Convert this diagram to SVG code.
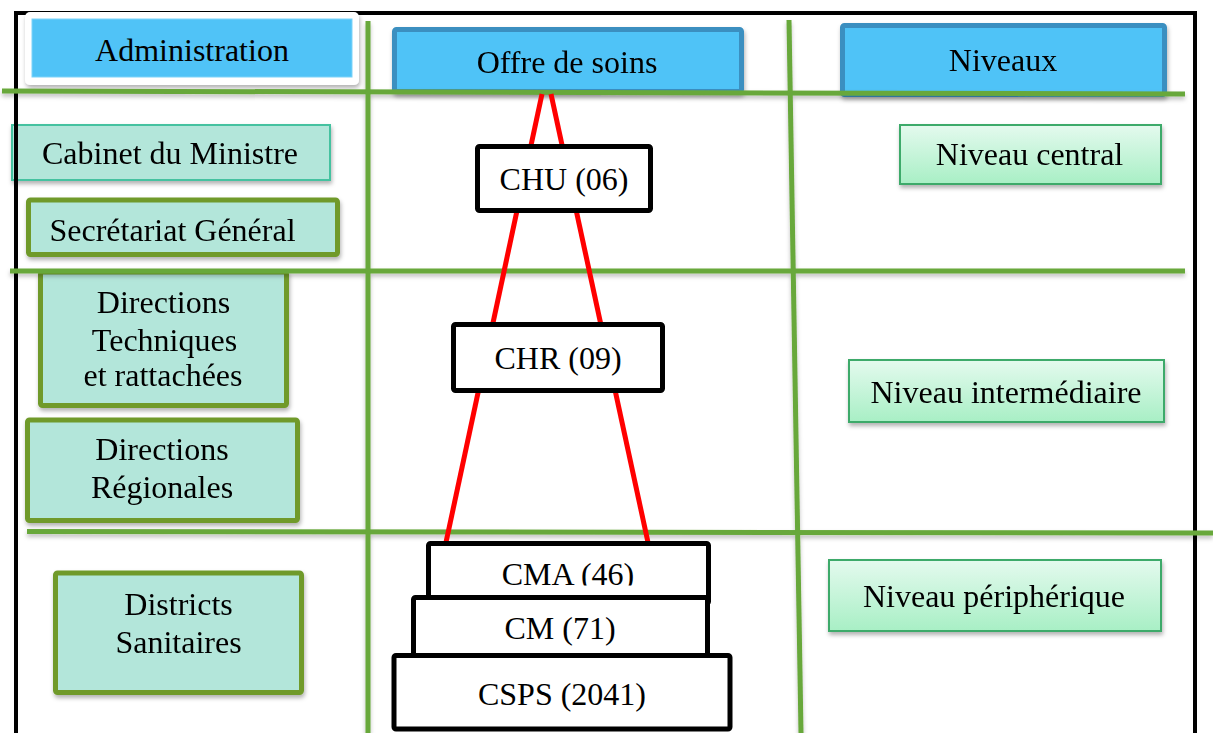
<svg xmlns="http://www.w3.org/2000/svg" width="1213" height="733" viewBox="0 0 1213 733">
<defs>
<filter id="sh" x="-10%" y="-20%" width="120%" height="160%">
<feDropShadow dx="1" dy="3" stdDeviation="2" flood-color="#000" flood-opacity="0.3"/>
</filter>
<filter id="lsh" x="-5%" y="-5%" width="110%" height="110%">
<feDropShadow dx="0" dy="3" stdDeviation="2" flood-color="#000" flood-opacity="0.25"/>
</filter>
<linearGradient id="gr" x1="0" y1="0" x2="0" y2="1">
<stop offset="0" stop-color="#E4FAEE"/>
<stop offset="1" stop-color="#A8EFC5"/>
</linearGradient>
<clipPath id="cmaclip"><rect x="420" y="540" width="300" height="45.5"/></clipPath>
</defs>
<style>
text{font-family:"Liberation Serif","Times New Roman",serif;font-size:32px;fill:#000;text-anchor:middle}
.hdr{fill:#50C3F7;stroke:#3B8FC0;stroke-width:5}
.adm{fill:#B3E6DA;stroke:#6F9A2B;stroke-width:5}
.cab{fill:#B3E6DA;stroke:#45C2A0;stroke-width:2}
.niv{fill:url(#gr);stroke:#3DAA6B;stroke-width:2}
.off{fill:#fff;stroke:#000;stroke-width:5}
.gl{stroke:#67A83B;stroke-width:5;fill:none}
.rl{stroke:#FF0000;stroke-width:5;fill:none}
</style>
<rect width="1213" height="733" fill="#fff"/>

<g id="cabinet" filter="url(#sh)">
<rect class="cab" x="12" y="125" width="318" height="55"/>
<text x="170" y="164">Cabinet du Ministre</text>
</g>

<rect id="frame" x="16" y="13" width="1179" height="740" fill="none" stroke="#000" stroke-width="4"/>

<g id="administration">
<rect x="25" y="12" width="334" height="73" rx="5" fill="#fff" filter="url(#sh)"/>
<rect x="32" y="19" width="320" height="58" fill="#50C3F7" stroke="#7DD3F9" stroke-width="1"/>
<text x="192" y="61">Administration</text>
</g>

<g id="secretariat" filter="url(#sh)">
<rect class="adm" x="28.5" y="200" width="309" height="54.5" rx="2"/>
<text x="172.5" y="241">Secrétariat Général</text>
</g>

<g id="dir-tech" filter="url(#sh)">
<rect class="adm" x="40.5" y="272" width="246" height="133.5" rx="2"/>
<text x="163.5" y="313">Directions</text>
<text x="164.5" y="351">Techniques</text>
<text x="163" y="386">et rattachées</text>
</g>

<g id="dir-reg" filter="url(#sh)">
<rect class="adm" x="27.5" y="420" width="270" height="100.5" rx="2"/>
<text x="162" y="460">Directions</text>
<text x="162" y="498">Régionales</text>
</g>

<g id="districts" filter="url(#sh)">
<rect class="adm" x="55.5" y="573" width="246" height="119.5" rx="2"/>
<text x="178.5" y="615">Districts</text>
<text x="178.5" y="653">Sanitaires</text>
</g>

<g id="offre" filter="url(#sh)">
<rect class="hdr" x="394.5" y="29.5" width="347" height="62" rx="2"/>
<text x="567" y="73">Offre de soins</text>
</g>

<g id="niveaux" filter="url(#sh)">
<rect class="hdr" x="842.5" y="25.5" width="322" height="69" rx="2"/>
<text x="1003" y="71">Niveaux</text>
</g>

<g id="connectors">
<g filter="url(#lsh)">
<line class="gl" x1="2" y1="91" x2="1185" y2="94"/>
<line class="gl" x1="10" y1="271" x2="1185" y2="271"/>
<line class="gl" x1="27" y1="531.5" x2="1213" y2="533"/>
<line class="gl" x1="368" y1="21" x2="368" y2="733"/>
<line class="gl" x1="789" y1="20" x2="801" y2="733"/>
</g>
<line class="rl" x1="542" y1="94" x2="445" y2="547"/>
<line class="rl" x1="551" y1="94" x2="649" y2="547"/>
</g>

<g id="chu">
<rect class="off" x="477.5" y="146.5" width="173" height="64" rx="2"/>
<text x="564" y="190">CHU (06)</text>
</g>

<g id="chr">
<rect class="off" x="453.5" y="324.5" width="209" height="66" rx="2"/>
<text x="558" y="369">CHR (09)</text>
</g>

<g id="cma">
<rect class="off" x="428.5" y="543.5" width="280" height="60" rx="2"/>
<text x="568" y="585" clip-path="url(#cmaclip)">CMA (46)</text>
</g>

<g id="cm">
<rect class="off" x="413.5" y="597.5" width="294" height="58" rx="2"/>
<text x="560" y="639">CM (71)</text>
</g>

<g id="csps">
<rect class="off" x="394" y="655.5" width="336" height="73.5" rx="2"/>
<text x="562" y="705">CSPS (2041)</text>
</g>

<g id="niv-central" filter="url(#sh)">
<rect class="niv" x="900" y="125" width="261" height="59"/>
<text x="1029.5" y="165">Niveau central</text>
</g>

<g id="niv-inter" filter="url(#sh)">
<rect class="niv" x="849" y="360" width="315" height="62"/>
<text x="1006" y="403">Niveau intermédiaire</text>
</g>

<g id="niv-peri" filter="url(#sh)">
<rect class="niv" x="829" y="560" width="332" height="71"/>
<text x="994" y="607">Niveau périphérique</text>
</g>
</svg>
